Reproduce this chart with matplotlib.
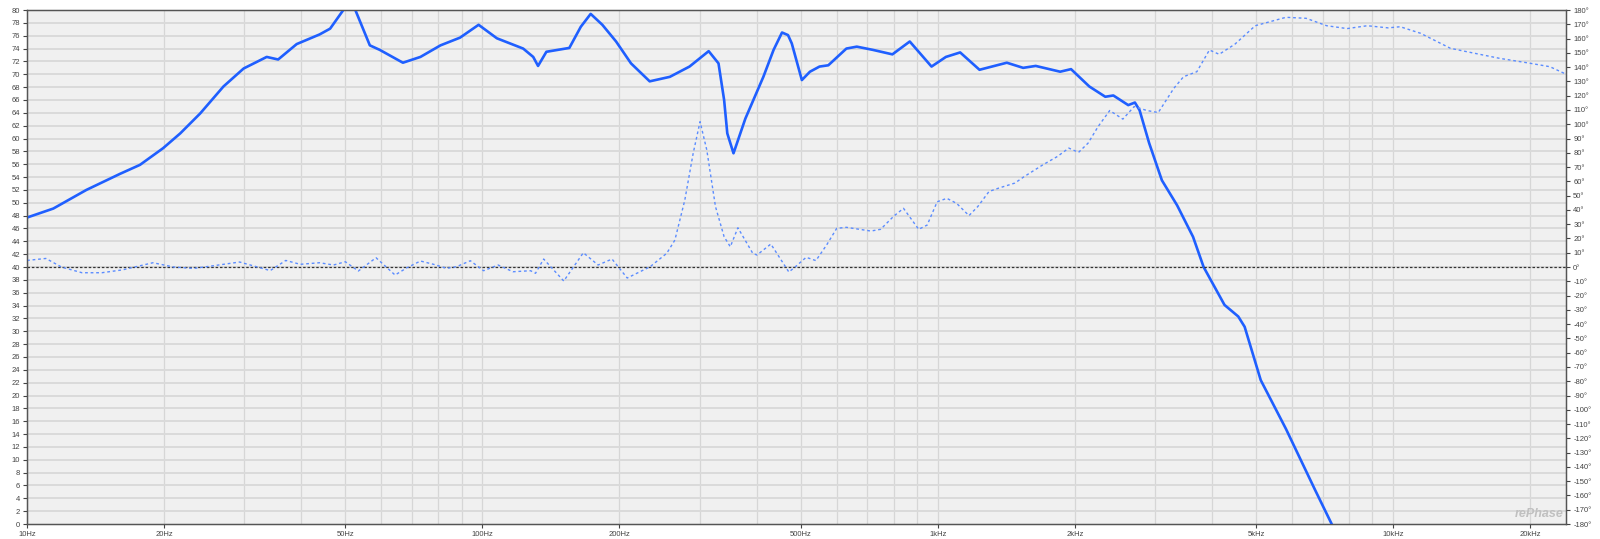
import matplotlib
matplotlib.use("Agg")
import matplotlib.pyplot as plt
from matplotlib.ticker import FixedLocator, NullFormatter

# magnitude response (Hz, dB)
mag_freq = [10, 11.42, 13.5, 16.0, 17.7, 19.9, 21.7, 24.0, 27.0, 29.9, 33.6, 35.6,
            39.1, 43.9, 46.3, 49.5, 51.0, 52.6, 56.6, 59.5, 66.9, 73.1, 80.9, 89.3,
            98.1, 107.6, 122.9, 129.3, 132.5, 138.2, 155.2, 164.5, 172.9, 183.4,
            196.6, 212, 233, 258, 285, 314, 330, 339.5, 345, 356, 378, 414, 436,
            455, 469, 478, 503, 524, 550, 575, 630, 664, 720, 795, 868, 969, 1042,
            1120, 1235, 1418, 1540, 1641, 1857, 1962, 2152, 2333, 2430, 2620, 2710,
            2775, 2912, 3106, 3355, 3636, 3836, 4263, 4570, 4720, 5120, 5817, 6740,
            7330, 7700]
mag_db = [47.7, 49.1, 52.0, 54.5, 55.9, 58.5, 60.8, 63.9, 68.1, 70.9, 72.7, 72.3,
          74.7, 76.2, 77.1, 80.0, 81.5, 80.0, 74.5, 73.8, 71.8, 72.7, 74.5, 75.7,
          77.7, 75.6, 74.0, 72.7, 71.3, 73.5, 74.1, 77.4, 79.4, 77.7,
          75.1, 71.7, 68.9, 69.6, 71.2, 73.6, 71.7, 66.0, 60.8, 57.7, 63.1, 69.6, 73.8,
          76.5, 76.1, 74.8, 69.1, 70.4, 71.2, 71.4, 74.0, 74.3, 73.8, 73.1, 75.1, 71.2, 72.7,
          73.4, 70.7, 71.8, 71.0, 71.3, 70.4, 70.8, 68.1, 66.5, 66.7, 65.2, 65.6,
          64.4, 59.3, 53.5, 49.6, 44.7, 40.0, 34.1, 32.3, 30.7, 22.4, 14.8, 5.3,
          0.0, -3.0]

# phase response (Hz, degrees)
ph_freq = [10, 11.0, 11.9, 13.2, 14.6, 16.2, 18.9, 21.0, 23.2, 25.8, 29.3, 34.2,
           37.0, 39.8, 43.9, 47.1, 50.0, 53.4, 58.4, 64.3, 68.3, 73.1, 78.1, 83.4,
           87.7, 94.1, 100.6, 108.3, 116.7, 127.6, 130.8, 136.3, 150.9, 166.6,
           179.5, 192.6, 208, 233.5, 254, 264.7, 278.3, 290.3, 300.6, 311, 325,
           339.5, 350.3, 364, 392.4, 400.8, 430, 471, 486, 514, 540, 570, 600, 630,
           713, 749, 801, 841, 908, 948, 997, 1047, 1100, 1171, 1224, 1296, 1362,
           1477, 1546, 1702, 1831, 1940, 2038, 2139, 2250, 2386, 2550, 2700, 2880,
           3050, 3300, 3466, 3707, 3950, 4150, 4490, 4980, 5817, 6443, 7147, 7925,
           8777, 9750, 10366, 11490, 13360, 14520, 17110, 20000, 22100, 24000]
ph_deg = [4.6, 6, 0, -4, -4, -2, 3, 0, -1, 1, 3.5, -2.5,
          4.6, 1.9, 3.0, 1.4, 3.7, -2.8, 6.5, -5.6, -0.5, 4.2, 1.9, -0.9,
          0.2, 4.4, -2.6, 1.4, -3.3, -2.6, -4.4, 5.6, -9.8, 10.0,
          1.4, 5.6, -7.7, 0.2, 9.6, 18.9, 46.9, 79.6, 101.8, 82, 42.3,
          21.2, 14.2, 27.5, 9.6, 8.4, 16.1, -3.5, 0, 6.8, 4.5, 15.4, 27.1, 27.8,
          25.2, 26.4, 35.7, 41.1, 26.4, 29.4, 45.7, 48.1, 44.6, 36.0, 42.3, 52.9, 55.3,
          58.8, 63.2, 71.6, 77.4, 83.3, 80.3, 86.8, 98.4, 109.6, 103.6, 112.4, 109.6,
          108.2, 125.2, 133.3, 136.8, 152, 149, 156, 169, 174.9, 174.2, 169, 167,
          169, 167.5, 168.3, 163.7, 153.2, 150.8, 146.2, 142.7, 140.3, 135]

xtick_vals = [10, 20, 50, 100, 200, 500, 1000, 2000, 5000, 10000, 20000]
xtick_labels = ["10Hz", "20Hz", "50Hz", "100Hz", "200Hz", "500Hz", "1kHz",
                "2kHz", "5kHz", "10kHz", "20kHz"]

plt.rcParams["font.family"] = ["Liberation Sans", "DejaVu Sans"]

fig = plt.figure(figsize=(16, 5.39), dpi=100)
ax = fig.add_axes([0.0169, 0.0278, 0.962, 0.9536])
ax.set_facecolor("#f0f0f0")
ax.set_xscale("log")
ax.set_xlim(10, 24000)
ax.set_ylim(0, 80)

# grid
minor = [m * 10 ** d for d in range(1, 5) for m in range(1, 10) if m * 10 ** d <= 24000]
ax.xaxis.set_major_locator(FixedLocator(xtick_vals))
ax.xaxis.set_minor_locator(FixedLocator(minor))
ax.xaxis.set_minor_formatter(NullFormatter())
ax.set_xticklabels(xtick_labels)
ax.set_yticks(range(0, 81, 2))
for f in minor:
    ax.axvline(f, color="#d6d6d6", lw=0.9, zorder=0)
for v in range(2, 80, 2):
    ax.axhline(v, color="#dadada", lw=1.4, zorder=0)

ax.tick_params(axis="x", which="major", length=3, labelsize=5.5, colors="#444444", pad=2)
ax.tick_params(axis="x", which="minor", length=0)
ax.tick_params(axis="y", length=3, labelsize=5.5, colors="#444444", pad=2)
for s in ax.spines.values():
    s.set_color("#555555")
    s.set_linewidth(1.0)

ax.plot(mag_freq, mag_db, color="#1f5fff", lw=1.9, zorder=3,
        solid_joinstyle="round", solid_capstyle="round")

ax2 = ax.twinx()
ax2.set_ylim(-180, 180)
ax2.set_yticks(range(-180, 181, 10))
ax2.set_yticklabels([f"{v}°" for v in range(-180, 181, 10)])
ax2.tick_params(axis="y", length=3, labelsize=5.5, colors="#444444", pad=2)
for s in ax2.spines.values():
    s.set_color("#555555")
ax2.axhline(0, color="#333333", lw=0.9, ls=(0, (2, 1.5)), zorder=2)
ax2.plot(ph_freq, ph_deg, color="#5b8cff", lw=1.0, ls=(0, (2, 2)), zorder=2)

ax.text(0.9985, 0.008, "rePhase", transform=ax.transAxes, ha="right", va="bottom",
        fontsize=9, fontstyle="italic", fontweight="bold", color="#c0c0c0")

fig.savefig("out.png", dpi=100)
